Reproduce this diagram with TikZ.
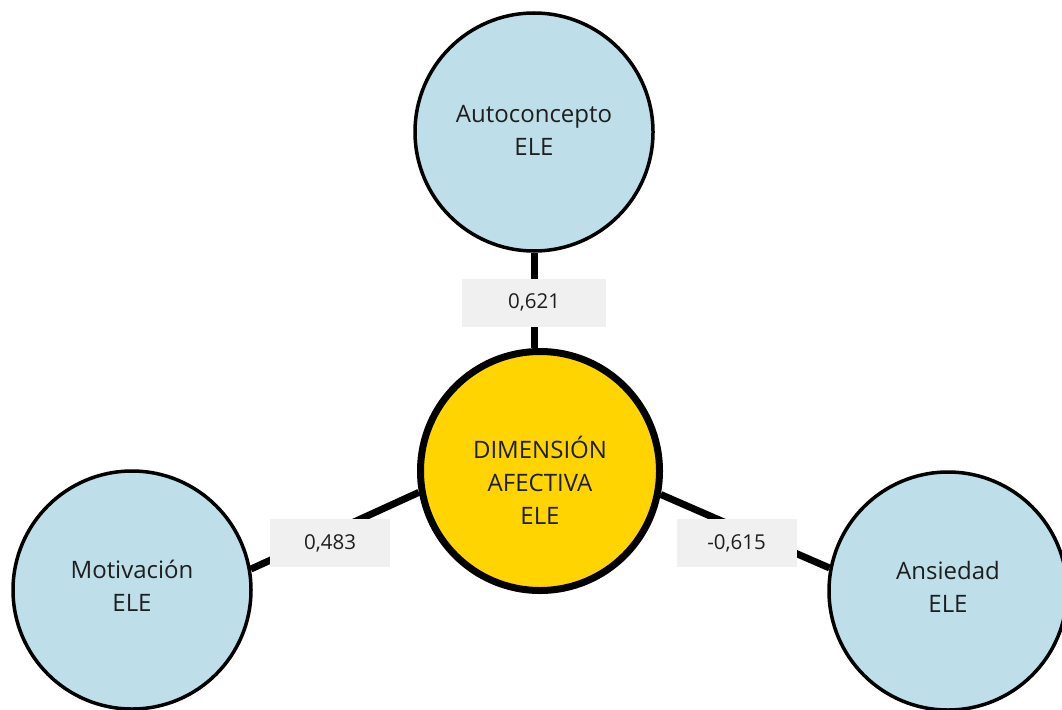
\documentclass[tikz,border=0pt]{standalone}
\usepackage{fontspec}
\setmainfont{Open Sans}
\usetikzlibrary{backgrounds}
\definecolor{cblue}{HTML}{BEDFE9}
\definecolor{cyellow}{HTML}{FFD400}
\definecolor{cbox}{HTML}{F0F0F0}
\definecolor{ctext}{HTML}{1E1E1E}
\tikzset{
  bubble/.style={circle, draw=black, line width=3.5pt, fill=cblue, minimum size=238pt, inner sep=0pt,
    align=center, text=ctext, font=\fontsize{24}{33}\selectfont},
  core/.style={circle, draw=black, line width=7pt, fill=cyellow, minimum size=239pt, inner sep=0pt,
    align=center, text=ctext, font=\fontsize{24}{33}\selectfont},
  link/.style={line width=7pt, black},
  coef/.style={fill=cbox, minimum width=120pt, minimum height=48pt, inner sep=0pt,
    text=ctext, font=\fontsize{20.5}{22}\selectfont}
}
\begin{document}
\begin{tikzpicture}[x=1pt,y=-1pt]
\clip (0,0) rectangle (1062,709);
\useasboundingbox (0,0) rectangle (1062,709);
\node[bubble] (auto) at (534,132) {Autoconcepto\\ELE\rule[-3pt]{0pt}{3pt}};
\node[core] (dim) at (540,471) {\rule{0pt}{40pt}DIMENSIÓN\\AFECTIVA\\ELE};
\node[bubble] (mot) at (132,590) {Motivación\\ELE\rule[-8pt]{0pt}{8pt}};
\node[bubble] (ans) at (948,591) {Ansiedad\\ELE\rule[-9pt]{0pt}{9pt}};
\begin{scope}[on background layer]
\draw[link] (auto.south) -- (auto.south |- dim.north);
\draw[link] (mot.10) -- (dim.190);
\draw[link] (dim.349) -- (ans.169);
\end{scope}
\node[coef, minimum width=144pt] (c1) at (534,302.5) {0,621};
\node[coef] (c2) at (330,543) {0,483};
\node[coef] (c3) at (736.5,543) {-0,615};
\end{tikzpicture}
\end{document}
